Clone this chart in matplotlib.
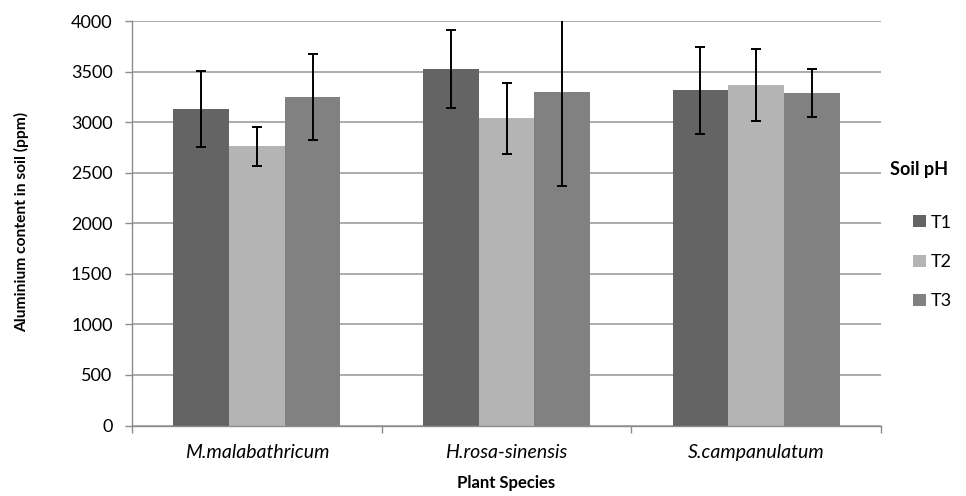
import matplotlib
matplotlib.use("Agg")
import matplotlib.pyplot as plt
from matplotlib.patches import Patch
import numpy as np

species = ["M.malabathricum", "H.rosa-sinensis", "S.campanulatum"]
series = ["T1", "T2", "T3"]
values = {
    "T1": [3127, 3523, 3316],
    "T2": [2762, 3038, 3365],
    "T3": [3252, 3299, 3289],
}
errors = {
    "T1": [375, 385, 430],
    "T2": [193, 352, 358],
    "T3": [425, 927, 235],
}
colors = {"T1": "#646464", "T2": "#b4b4b4", "T3": "#818181"}
yticks = [0, 500, 1000, 1500, 2000, 2500, 3000, 3500, 4000]

plt.rcParams['font.family'] = ['Lato', 'DejaVu Sans']

W, H = 966, 496
fig = plt.figure(figsize=(W/100, H/100), dpi=100)
ax = fig.add_axes([132/W, 1-425.5/H, (881-132)/W, (425.5-21)/H])

x = np.arange(len(species))
w = 0.223
for i, s in enumerate(series):
    ax.bar(x + (i-1)*w, values[s], width=w, color=colors[s], label=s, zorder=2,
           edgecolor='none')
    ax.errorbar(x + (i-1)*w, values[s], yerr=errors[s], fmt='none', ecolor='black',
                elinewidth=1.4, capsize=3.8, capthick=1.4, zorder=3)

ax.set_ylim(0, 4000)
ax.set_xlim(-0.5, 2.5)
ax.set_yticks(yticks)
ax.set_yticklabels([str(v) for v in yticks], fontsize=13)
ax.yaxis.grid(True, color='#a6a6a6', linewidth=1.3, zorder=0)
ax.set_axisbelow(True)

ax.set_xticks(x)
ax.set_xticklabels(species, fontsize=14, style='italic')
ax.tick_params(axis='x', which='major', length=0, pad=13)
ax.set_xticks([-0.5, 0.5, 1.5, 2.5], minor=True)
ax.tick_params(axis='x', which='minor', length=5, color='#8c8c8c', width=1)
ax.tick_params(axis='y', length=5, color='#8c8c8c', width=1, pad=9)

for sp in ['top', 'right']:
    ax.spines[sp].set_visible(False)
for sp in ['left', 'bottom']:
    ax.spines[sp].set_color('#8c8c8c')
    ax.spines[sp].set_linewidth(1)

fig.text(22/W, 1-222/H, "Aluminium content in soil (ppm)", rotation=90,
         ha='center', va='center', fontsize=11.2, fontweight='bold')
fig.text(506.5/W, 1-483/H, "Plant Species", ha='center', va='center',
         fontsize=12, fontweight='bold')

fig.text(890/W, 1-170/H, "Soil pH", ha='left', va='center', fontsize=13,
         fontweight='bold')
handles = [Patch(facecolor=colors[s], edgecolor='none') for s in series]
leg = fig.legend(handles, series, loc='center left',
                 bbox_to_anchor=(913/W, 1-262/H), frameon=False, fontsize=13,
                 handlelength=0.7, handleheight=0.65, labelspacing=1.3,
                 handletextpad=0.3, borderpad=0, borderaxespad=0)

fig.savefig("out.png", dpi=100)
